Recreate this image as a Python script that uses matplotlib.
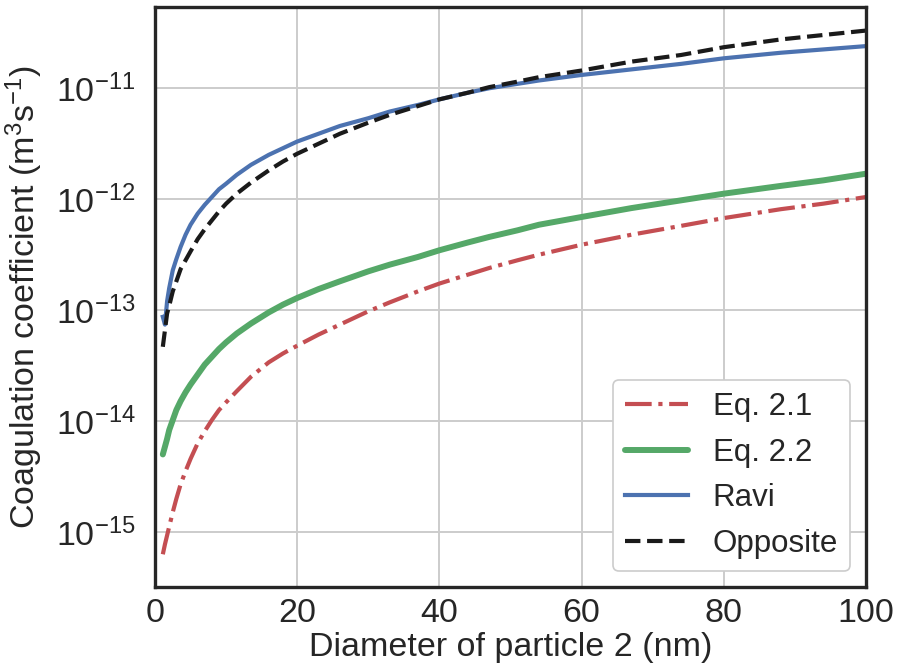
import matplotlib
matplotlib.use("Agg")
import matplotlib.pyplot as plt
import numpy as np

# ---- data (values stored as log10 of m^3 s^-1) ----
diameter_nm = [1.1, 1.4, 1.7, 2, 2.5, 3, 3.6, 4.3, 5, 6, 7, 8, 9, 10, 11.5, 13.5,
               16, 18, 20, 23, 26, 30, 33, 37, 40, 44, 47, 51, 54, 60, 67, 74,
               80, 88, 94, 100]

eq21_log10 = [-15.20, -15.11, -15.03, -14.95, -14.82, -14.70, -14.57, -14.45,
              -14.34, -14.20, -14.09, -13.99, -13.90, -13.83, -13.73, -13.60,
              -13.47, -13.39, -13.32, -13.22, -13.13, -13.01, -12.93, -12.83,
              -12.76, -12.68, -12.62, -12.55, -12.50, -12.41, -12.32, -12.24,
              -12.17, -12.09, -12.04, -11.98]

eq22_log10 = [-14.30, -14.23, -14.16, -14.08, -13.99, -13.90, -13.82, -13.74,
              -13.67, -13.58, -13.49, -13.42, -13.35, -13.29, -13.21, -13.12,
              -13.02, -12.95, -12.89, -12.81, -12.74, -12.65, -12.59, -12.52,
              -12.46, -12.39, -12.34, -12.28, -12.23, -12.16, -12.08, -12.01,
              -11.95, -11.88, -11.83, -11.77]

ravi_log10 = [-13.06, -13.13, -12.92, -12.80, -12.64, -12.54, -12.43, -12.32,
              -12.23, -12.13, -12.05, -11.98, -11.91, -11.86, -11.78, -11.69,
              -11.60, -11.54, -11.48, -11.41, -11.34, -11.27, -11.21, -11.15,
              -11.10, -11.04, -11.00, -10.96, -10.93, -10.88, -10.83, -10.78,
              -10.73, -10.68, -10.65, -10.62]

opposite_log10 = [-13.33, -13.18, -13.03, -12.96, -12.83, -12.74, -12.63, -12.55,
                  -12.47, -12.36, -12.27, -12.19, -12.11, -12.04, -11.95, -11.85,
                  -11.74, -11.66, -11.59, -11.50, -11.41, -11.31, -11.24, -11.16,
                  -11.10, -11.04, -10.99, -10.94, -10.90, -10.84, -10.76, -10.70,
                  -10.63, -10.56, -10.52, -10.48]

labels = ["Eq. 2.1", "Eq. 2.2", "Ravi", "Opposite"]
xticks = [0, 20, 40, 60, 80, 100]
yticks = [1e-15, 1e-14, 1e-13, 1e-12, 1e-11]
y_limits = (3.2e-16, 5.4e-11)

eq21 = 10.0 ** np.array(eq21_log10)
eq22 = 10.0 ** np.array(eq22_log10)
ravi = 10.0 ** np.array(ravi_log10)
opposite = 10.0 ** np.array(opposite_log10)

# ---- style ----
plt.rcParams["font.family"] = ["Liberation Sans", "DejaVu Sans"]
plt.rcParams["mathtext.fontset"] = "custom"
plt.rcParams["mathtext.rm"] = "Liberation Sans"
plt.rcParams["mathtext.it"] = "Liberation Sans:italic"
plt.rcParams["mathtext.bf"] = "Liberation Sans:bold"
plt.rcParams["text.color"] = "#262626"
plt.rcParams["axes.labelcolor"] = "#262626"
plt.rcParams["xtick.color"] = "#262626"
plt.rcParams["ytick.color"] = "#262626"

fig = plt.figure(figsize=(8.97, 6.72), dpi=100)
ax = fig.add_axes([155 / 897, 1 - 587 / 672, (866 - 155) / 897, (587 - 7) / 672])

ax.plot(diameter_nm, eq21, color="#C44E52", lw=3, ls="-.", label=labels[0])
ax.plot(diameter_nm, eq22, color="#55A868", lw=4.3, ls="-", label=labels[1],
        solid_capstyle="round")
ax.plot(diameter_nm, ravi, color="#4C72B0", lw=3, ls="-", label=labels[2])
ax.plot(diameter_nm, opposite, color="#1a1a1a", lw=3, ls="--", label=labels[3])

ax.set_yscale("log")
ax.set_xlim(0, 100)
ax.set_ylim(*y_limits)
ax.set_xticks(xticks)
ax.set_yticks(yticks)
ax.yaxis.set_minor_locator(matplotlib.ticker.NullLocator())

ax.grid(True, color="#cccccc", lw=1.4)
ax.set_axisbelow(True)
for s in ax.spines.values():
    s.set_color("#262626")
    s.set_linewidth(2.4)

ax.tick_params(axis="both", which="both", length=0, labelsize=24.5)
ax.tick_params(axis="x", pad=8)
ax.tick_params(axis="y", pad=14)

ax.set_xlabel("Diameter of particle 2 (nm)", fontsize=24.5, labelpad=2)
ax.set_ylabel("Coagulation coefficient (m$^3$s$^{-1}$)", fontsize=24.5, labelpad=8)

leg = ax.legend(loc="lower right", fontsize=22.5, frameon=True, fancybox=True,
                borderaxespad=0.5, handlelength=2.0)
leg.get_frame().set_edgecolor("#cccccc")
leg.get_frame().set_linewidth(1.2)
leg.get_frame().set_alpha(1.0)

fig.savefig("out.png", dpi=100)
